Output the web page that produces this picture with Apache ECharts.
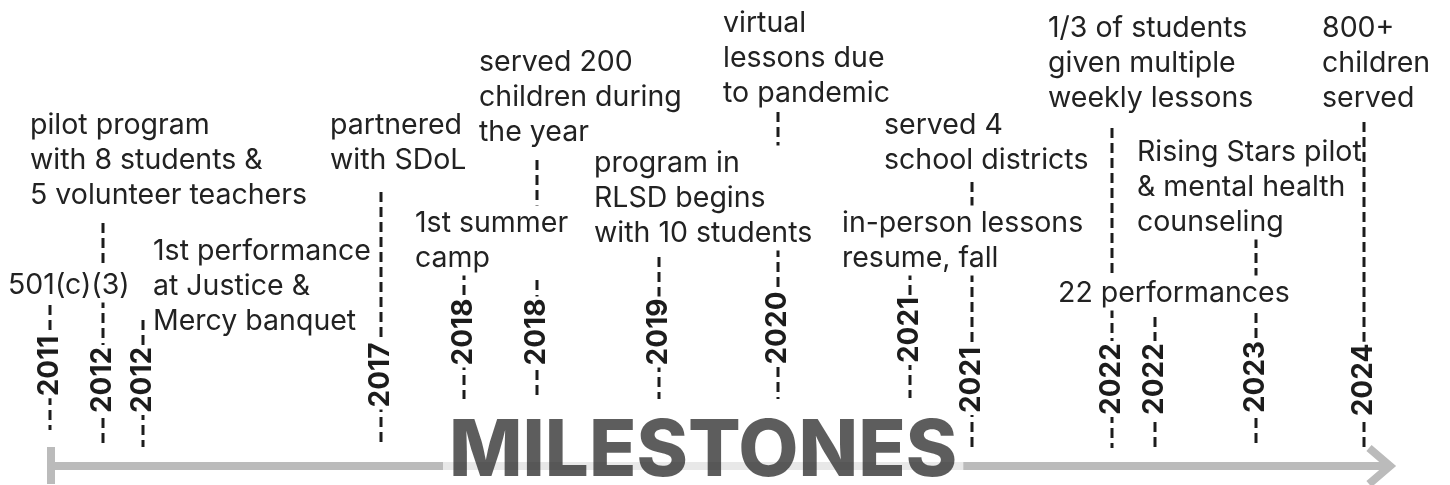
<!DOCTYPE html>
<html>
<head>
<meta charset="utf-8">
<title>Milestones</title>
<script src="https://cdn.jsdelivr.net/npm/echarts@6/dist/echarts.min.js"></script>
<style>
  html, body { margin: 0; padding: 0; background: #fff; }
  #chart { width: 1450px; height: 485px; }
</style>
</head>
<body>
<div id="chart"></div>
<script>
// one entry per milestone
const years = ['2011', '2012', '2012', '2017', '2018', '2018', '2019', '2020', '2021', '2021', '2022', '2022', '2023', '2024'];
const notes = [
  '501(c)(3)',
  'pilot program\nwith 8 students &\n5 volunteer teachers',
  '1st performance\nat Justice &\nMercy banquet',
  'partnered\nwith SDoL',
  '1st summer\ncamp',
  'served 200\nchildren during\nthe year',
  'program in\nRLSD begins\nwith 10 students',
  'virtual\nlessons due\nto pandemic',
  'in-person lessons\nresume, fall',
  'served 4\nschool districts',
  '1/3 of students\ngiven multiple\nweekly lessons',
  '22 performances',
  'Rising Stars pilot\n& mental health\ncounseling',
  '800+\nchildren\nserved'
];
// where each stem sits along the timeline, and how far it reaches
const stemX      = [50, 103, 143, 381, 464, 537, 659, 778, 910, 972, 1112, 1155, 1256, 1364];
const stemTop    = [305, 223, 320, 192, 270, 160, 257, 112, 270, 182, 128, 317, 238, 122];
const stemBottom = [430, 447, 447, 443, 399, 399, 399, 399, 398, 447, 448, 448, 447, 450];
const yearMid    = [366, 380, 380, 375, 332, 332, 332, 328, 330, 380, 379, 379, 377, 380];
// anchor of each note (left edge, middle of first line)
const noteX = [8, 30, 153, 330, 415, 479, 594, 723, 842, 884, 1048, 1058, 1137, 1322];
const noteY = [285, 125, 251, 125, 223, 62, 163, 23, 223, 125, 28, 293, 152, 28];

// timeline arrow
const AXIS_START = 51, AXIS_END = 1390, AXIS_Y = 466;

const LINE_H = 35;
const ink = '#1c1c1c';
const arrowGrey = '#bbbbbb';

let chart = echarts.init(document.getElementById('chart'));

function renderStem(params, api) {
  let x = api.value(0);
  let top = api.coord([x, api.value(1)]);
  let bottom = api.coord([x, api.value(2)]);
  let mid = api.coord([x, api.value(3)]);
  return {
    type: 'group',
    children: [
      {
        type: 'line',
        shape: { x1: top[0], y1: top[1], x2: bottom[0], y2: bottom[1] },
        style: { stroke: ink, lineWidth: 3, lineDash: [10, 5] }
      },
      {
        type: 'text',
        x: mid[0],
        y: mid[1],
        rotation: Math.PI / 2,
        style: {
          text: years[params.dataIndex],
          font: 'bold 28px Inter',
          fill: ink,
          align: 'center',
          verticalAlign: 'middle',
          backgroundColor: '#fff',
          padding: [1, 2]
        }
      }
    ]
  };
}

function renderNote(params, api) {
  let p = api.coord([api.value(0), api.value(1)]);
  return {
    type: 'text',
    x: p[0],
    y: p[1] - LINE_H / 2,
    style: {
      text: notes[params.dataIndex],
      font: '28.5px Inter',
      fill: '#222',
      align: 'left',
      verticalAlign: 'top',
      lineHeight: LINE_H,
      backgroundColor: '#fff'
    }
  };
}

function renderArrow(params, api) {
  let a = api.coord([api.value(0), api.value(2)]);
  let b = api.coord([api.value(1), api.value(2)]);
  return {
    type: 'group',
    children: [
      {
        type: 'line',
        shape: { x1: a[0], y1: a[1], x2: b[0] - 4, y2: b[1] },
        style: { stroke: arrowGrey, lineWidth: 8 }
      },
      {
        type: 'rect',
        shape: { x: a[0] - 4, y: a[1] - 19, width: 8, height: 37 },
        style: { fill: arrowGrey }
      },
      {
        type: 'polyline',
        shape: { points: [[b[0] - 21, b[1] - 18], [b[0], b[1]], [b[0] - 21, b[1] + 18]] },
        style: { stroke: arrowGrey, lineWidth: 8, fill: null, lineJoin: 'miter' }
      }
    ]
  };
}

chart.setOption({
  animation: false,
  title: {
    text: 'MILESTONES',
    left: 443,
    top: 414,
    z: 10,
    padding: [0, 6],
    backgroundColor: 'rgba(255,255,255,0.66)',
    textStyle: {
      fontFamily: 'Inter',
      fontWeight: 800,
      fontSize: 78,
      color: 'rgba(30,30,30,0.72)'
    }
  },
  grid: { left: 0, right: 0, top: 0, bottom: 0 },
  xAxis: { type: 'value', min: 0, max: 1450, show: false },
  yAxis: { type: 'value', min: 0, max: 485, inverse: true, show: false },
  series: [
    {
      type: 'custom',
      name: 'arrow',
      renderItem: renderArrow,
      data: [[AXIS_START, AXIS_END, AXIS_Y]],
      z: 1
    },
    {
      type: 'custom',
      name: 'stems',
      renderItem: renderStem,
      data: stemX.map((x, i) => [x, stemTop[i], stemBottom[i], yearMid[i]]),
      z: 2
    },
    {
      type: 'custom',
      name: 'notes',
      renderItem: renderNote,
      data: noteX.map((x, i) => [x, noteY[i]]),
      z: 3
    }
  ]
});
</script>
</body>
</html>
